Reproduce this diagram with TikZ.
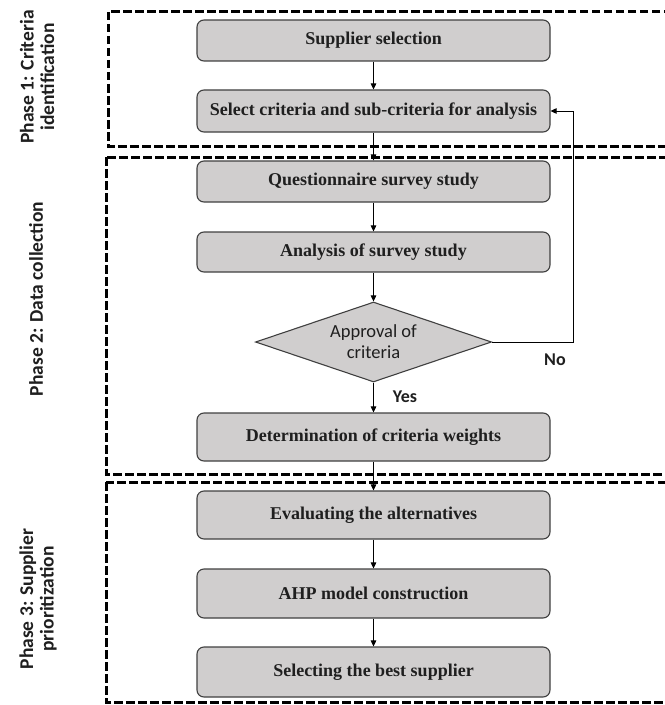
\documentclass[tikz,border=0pt]{standalone}
\usepackage{fontspec}
\setmainfont{Liberation Serif}
\newfontfamily\calib{Carlito}
\usetikzlibrary{shapes.geometric,arrows.meta}
\definecolor{boxfill}{HTML}{D0CECE}
\definecolor{boxline}{HTML}{404040}
\begin{document}
\begin{tikzpicture}[x=1bp,y=-1bp,
  stepbox/.style={draw=boxline, line width=1.1bp, fill=boxfill, rounded corners=7bp,
    minimum width=353bp, inner sep=0pt,
    font=\fontsize{18bp}{20bp}\selectfont\bfseries, text=black!88},
  dia/.style={diamond, draw=boxline, line width=1.1bp, fill=boxfill, minimum width=236bp,
    minimum height=80bp, inner sep=0pt, aspect=2.95, align=center,
    font=\calib\fontsize{18.5bp}{21bp}\selectfont, text=black!88},
  arr/.style={-{Triangle[length=6bp,width=5.5bp]}, line width=0.9bp},
  phasebox/.style={dash pattern=on 8.5bp off 3.5bp, line width=3bp},
  plabel/.style={rotate=90, align=center, text=black!88,
    font=\calib\bfseries\fontsize{19.5bp}{20.5bp}\selectfont},
  yn/.style={text=black!88, font=\calib\bfseries\fontsize{18bp}{21bp}\selectfont}
]
\useasboundingbox (0,0) rectangle (665,705);
\begin{scope}
\clip (0,0) rectangle (665,705);
\draw[phasebox] (108,12) rectangle (700,146);
\draw[phasebox] (106,157) rectangle (700,474);
\draw[phasebox] (106,482) rectangle (700,702);
\end{scope}

\node[plabel] (p1) at (37,77) {Phase 1: Criteria\\identification};
\node[plabel] (p2) at (36,299) {Phase 2: Data collection};
\node[plabel] (p3) at (38,599) {Phase 3: Supplier\\prioritization};

\node[stepbox, minimum height=41bp] (s1) at (373.5,40.5) {Supplier selection};
\node[stepbox, minimum height=42bp] (s2) at (373.5,111) {Select criteria and sub-criteria for analysis};
\node[stepbox, minimum height=41bp] (s3) at (373.5,181.5) {Questionnaire survey study};
\node[stepbox, minimum height=40bp] (s4) at (373.5,252) {Analysis of survey study};
\node[dia] (d) at (373.5,342) {Approval of\\criteria};
\node[stepbox, minimum height=48bp] (s5) at (373.5,437) {Determination of criteria weights};
\node[stepbox, minimum height=48bp] (s6) at (373.5,515) {Evaluating the alternatives};
\node[stepbox, minimum height=49bp] (s7) at (373.5,593.5) {AHP model construction};
\node[stepbox, minimum height=50bp] (s8) at (373.5,672) {Selecting the best supplier};

\coordinate (fb) at (573,342);

\draw[arr] (s1) -- (s2);
\draw[arr] (s2) -- (s3);
\draw[arr] (s3) -- (s4);
\draw[arr] (s4) -- (d);
\draw[arr] (d) -- (s5);
\draw[arr] (s5) -- (s6);
\draw[arr] (s6) -- (s7);
\draw[arr] (s7) -- (s8);
\draw[arr] (d.east) -- (fb) |- (s2.east);

\node[yn] (no) at (555,360) {No};
\node[yn] (yes) at (405,397) {Yes};
\end{tikzpicture}
\end{document}
